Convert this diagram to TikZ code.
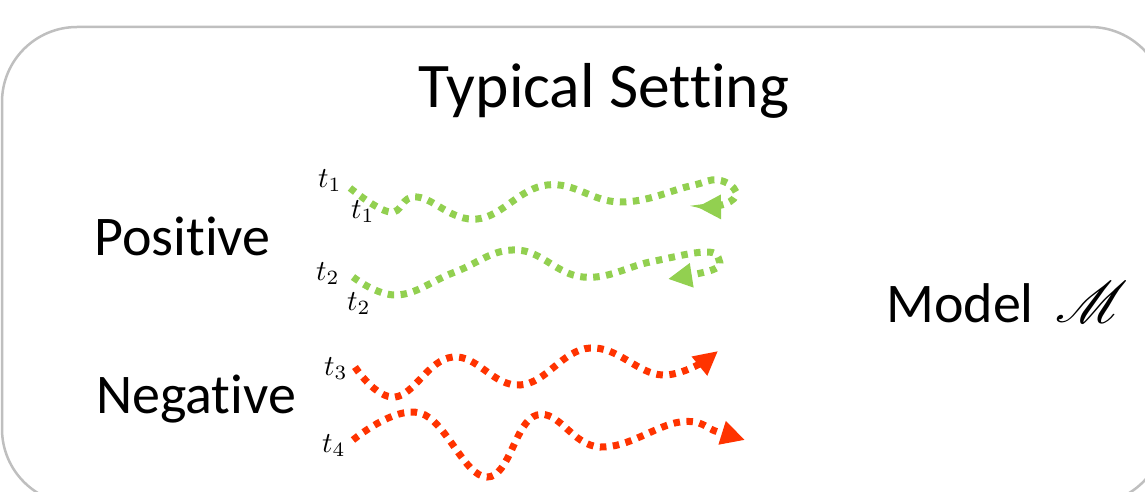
\documentclass[tikz,border=0pt]{standalone}
\usepackage{fontspec}
\setmainfont{Carlito}[Ligatures=NoCommon]
\usepackage{graphicx}
\usepackage{mathrsfs}
\usetikzlibrary{arrows.meta}

\definecolor{framegray}{HTML}{BFBFBF}
\definecolor{posgreen}{HTML}{92D050}
\definecolor{negred}{HTML}{FF3300}

\tikzset{
  heading/.style={inner sep=0pt, font=\fontsize{63.5}{70}\selectfont},
  sidetext/.style={inner sep=0pt, font=\fontsize{56}{64}\selectfont},
  tlabel/.style={inner sep=0pt, anchor=base west},
  trace/.style={line width=7pt, dash pattern=on 6.5pt off 6.5pt,
    -{Triangle[length=24pt, width=23pt]}},
  postrace/.style={trace, draw=posgreen},
  negtrace/.style={trace, draw=negred},
}
% enlarged math symbol (math fonts only come in fixed sizes)
\newcommand{\bigmath}[2]{\scalebox{#1}{$#2$}}

\begin{document}
\begin{tikzpicture}[x=1pt, y=-1pt]
  \useasboundingbox (0,0) rectangle (1145,492);
  \clip (0,0) rectangle (1145,492);

  % outer rounded frame
  \draw[framegray, line width=2.5pt, rounded corners=75pt] (2,27) rectangle (1165,504);

  % captions
  \node[heading, anchor=base] (title) at (604,108) {Typical Setting};
  \node[sidetext, anchor=base west] (pos) at (94,255) {Positive};
  \node[sidetext, anchor=base west] (neg) at (96,413) {Negative};
  \node[sidetext, anchor=base west] (model) at (886,322)
    {Model\hspace{22pt}\bigmath{2.35}{\mathscr{M}}};

  % time labels
  \node[tlabel] (t1a) at (318,187) {\bigmath{2.9}{t_1}};
  \node[tlabel] (t1b) at (351,218) {\bigmath{2.9}{t_1}};
  \node[tlabel] (t2a) at (316,280) {\bigmath{2.9}{t_2}};
  \node[tlabel] (t2b) at (347,310) {\bigmath{2.9}{t_2}};
  \node[tlabel] (t3)  at (324,375) {\bigmath{2.9}{t_3}};
  \node[tlabel] (t4)  at (322,452) {\bigmath{2.9}{t_4}};

  % positive trajectories loop back
  \draw[postrace] plot[smooth, tension=0.7] coordinates
    {(350,188) (390,212) (417,197) (477,219) (547,185) (620,202)
     (690,186) (718,180) (736,192) (725,204) (697,207)};
  \draw[postrace] plot[smooth, tension=0.7] coordinates
    {(353,277) (397,295) (455,272) (517,250) (583,277) (650,262)
     (705,252) (719,260) (712,270) (668,279)};

  % negative trajectories run straight on
  \draw[negtrace] plot[smooth, tension=0.7] coordinates
    {(355,367) (395,397) (453,357) (520,385) (590,348) (663,375) (718,351)};
  \draw[negtrace] plot[smooth, tension=0.7] coordinates
    {(353,440) (420,413) (487,477) (537,415) (600,447) (680,422) (718,432) (745,440)};
\end{tikzpicture}
\end{document}
